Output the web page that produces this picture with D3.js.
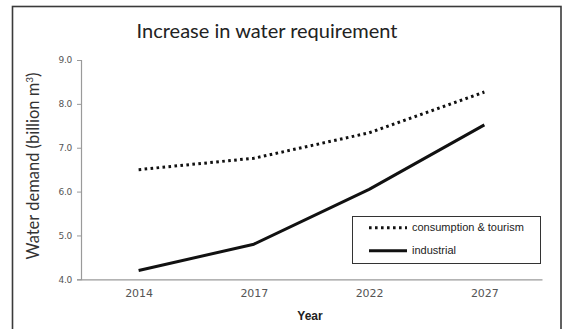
<!DOCTYPE html>
<html>
<head>
<meta charset="utf-8">
<script src="https://cdn.jsdelivr.net/npm/d3@7"></script>
<style>
  body { margin: 0; background: #fff; }
  svg { display: block; }
</style>
</head>
<body>
<div id="chart"></div>
<script>
var w = 562,
    h = 329;

// data
var years = ["2014", "2017", "2022", "2027"];
var consumption = [6.5, 6.76, 7.34, 8.27];
var industrial = [4.2, 4.8, 6.05, 7.52];
var yTicks = [4, 5, 6, 7, 8, 9];
var seriesNames = ["consumption & tourism", "industrial"];

var svg = d3.select("#chart").append("svg")
    .attr("width", w)
    .attr("height", h);

// outer frame
svg.append("rect")
    .attr("x", 12.5)
    .attr("y", 6.5)
    .attr("width", 548.5)
    .attr("height", 340)
    .attr("fill", "none")
    .attr("stroke", "#3a3a3a")
    .attr("stroke-width", 1.6);

var x = d3.scalePoint()
    .domain(years)
    .range([81, 542])
    .padding(0.5);

var y = d3.scaleLinear()
    .domain([4, 9])
    .range([279.3, 60]);

// title
svg.append("text")
    .attr("x", 267)
    .attr("y", 38)
    .attr("text-anchor", "middle")
    .style("font-family", "Lato, 'Open Sans', sans-serif")
    .style("font-size", "20px")
    .style("fill", "#222")
    .text("Increase in water requirement");

// y axis
var yAxis = svg.append("g")
    .attr("transform", "translate(81,0)")
    .call(d3.axisLeft(y).tickValues(yTicks).tickSize(4).tickPadding(5)
        .tickFormat(d3.format(".1f")));
yAxis.select(".domain").attr("stroke", "#9a9a9a").attr("stroke-width", 1.2);
yAxis.selectAll(".tick line").attr("stroke", "#9a9a9a");
yAxis.selectAll(".tick text")
    .style("font-family", "'DejaVu Sans', Verdana, sans-serif")
    .style("font-size", "9px")
    .style("letter-spacing", "-0.3px")
    .style("fill", "#555");

// x axis
var xAxis = svg.append("g")
    .attr("transform", "translate(0,279.3)")
    .call(d3.axisBottom(x).tickSize(0).tickPadding(10));
xAxis.select(".domain").attr("stroke", "#9a9a9a").attr("stroke-width", 1.2);
xAxis.selectAll(".tick text")
    .style("font-family", "'DejaVu Sans', Verdana, sans-serif")
    .style("font-size", "11px")
    .style("fill", "#555");

// axis titles
var yTitle = svg.append("text")
    .attr("transform", "translate(39,166) rotate(-90)")
    .attr("text-anchor", "middle")
    .style("font-family", "Lato, 'Open Sans', sans-serif")
    .style("font-size", "16.5px")
    .style("fill", "#333");
yTitle.append("tspan").text("Water demand (billion m");
yTitle.append("tspan")
    .attr("dy", -6)
    .style("font-size", "10px")
    .text("3");
yTitle.append("tspan")
    .attr("dy", 6)
    .text(")");

svg.append("text")
    .attr("x", 310)
    .attr("y", 320)
    .attr("text-anchor", "middle")
    .style("font-family", "'Liberation Sans', Arial, sans-serif")
    .style("font-size", "12px")
    .style("font-weight", "bold")
    .style("fill", "#222")
    .text("Year");

// lines
var line = d3.line()
    .x(function(d, i) { return x(years[i]); })
    .y(function(d) { return y(d); });

svg.append("path")
    .datum(consumption)
    .attr("d", line)
    .attr("fill", "none")
    .attr("stroke", "#111")
    .attr("stroke-width", 3)
    .attr("stroke-dasharray", "2.6,3.4");

svg.append("path")
    .datum(industrial)
    .attr("d", line)
    .attr("fill", "none")
    .attr("stroke", "#111")
    .attr("stroke-width", 3)
    .attr("stroke-linejoin", "round");

// legend
var legend = svg.append("g");
legend.append("rect")
    .attr("x", 352.5)
    .attr("y", 216.5)
    .attr("width", 188)
    .attr("height", 47)
    .attr("fill", "#fff")
    .attr("stroke", "#333")
    .attr("stroke-width", 1);

var legendY = [227.7, 250.7];
seriesNames.forEach(function(name, i) {
    legend.append("line")
        .attr("x1", 369)
        .attr("x2", 407)
        .attr("y1", legendY[i])
        .attr("y2", legendY[i])
        .attr("stroke", "#111")
        .attr("stroke-width", 3)
        .attr("stroke-dasharray", i === 0 ? "2.6,3.4" : null);
    legend.append("text")
        .attr("x", 412)
        .attr("y", legendY[i] + 3.5)
        .style("font-family", "'Liberation Sans', Arial, sans-serif")
        .style("font-size", "11px")
        .style("fill", "#222")
        .text(name);
});
</script>
</body>
</html>
